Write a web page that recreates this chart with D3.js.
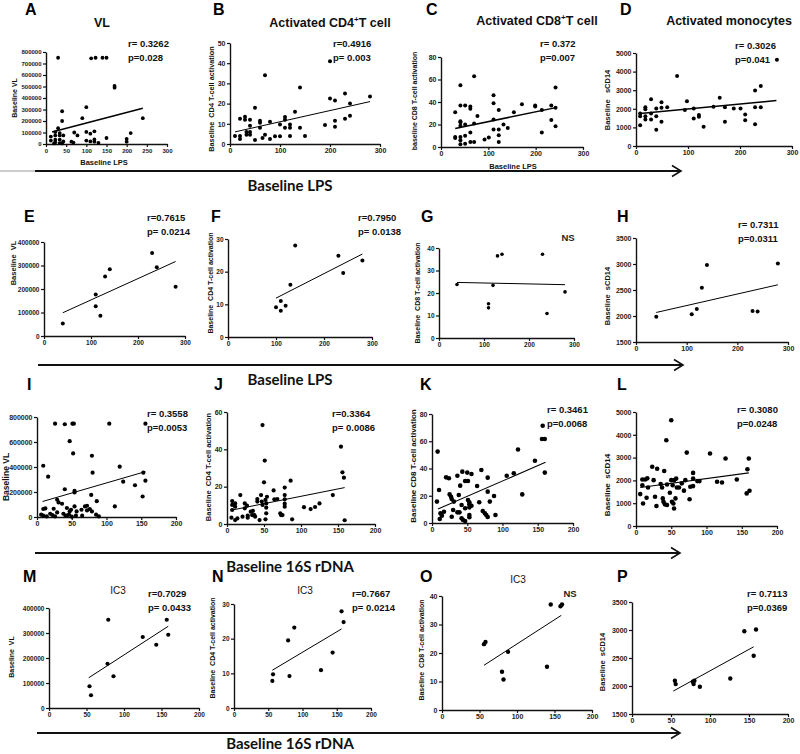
<!DOCTYPE html>
<html><head><meta charset="utf-8">
<script src="https://cdn.jsdelivr.net/npm/d3@7"></script>
<style>
body{margin:0;background:#fff;}
svg text{font-family:"Liberation Sans",Arial,sans-serif;white-space:pre;}
</style></head><body>
<svg id="c" width="800" height="754"></svg>
<script>
// ---------- tick labels ----------
const LPS_T50 = [0,50,100,150,200,250,300];
const LPS_T100 = [0,100,200,300];
const S16_T = [0,50,100,150,200];
const VL_T800 = [0,100000,200000,300000,400000,500000,600000,700000,800000];
const VL_T800b = [0,200000,400000,600000,800000];
const VL_T400 = [0,100000,200000,300000,400000];
const CD4_T50 = [0,10,20,30,40,50];
const CD4_T30 = [0,10,20,30];
const CD4_T60 = [0,20,40,60];
const CD8_T80 = [0,20,40,60,80];
const CD8_T40 = [0,10,20,30,40];
const SCD_T5000 = [0,1000,2000,3000,4000,5000];
const SCD_T3500 = [1500,2000,2500,3000,3500];

// ---------- Row 1: baseline LPS, all patients ----------
const A_lps = [30,112,123,140,150,170,170,100,40,40,90,240,30,210,100,110,120,70,78,150,200,200,100,110,120,120,130,63,68,12,12,23,23,23,23,34,34,34,43,43,34,20,40];
const A_vl  = [750000,745000,750000,750000,750000,505000,490000,320000,285000,200000,225000,225000,138000,95000,105000,90000,110000,100000,75000,52000,45000,20000,30000,22000,40000,20000,10000,20000,12000,65000,30000,104000,75000,38000,15000,95000,75000,38000,75000,22000,8000,5000,5000];
const A_fitX = [15,240], A_fitY = [104000,310000];

const B_lps = [10,20,20,20,30,30,33,33,40,40,40,40,50,50,60,60,60,65,70,70,80,80,90,100,100,110,110,110,120,120,120,130,140,140,150,190,200,200,210,210,210,230,230,240,240,280];
const B_cd4 = [4,12.5,4,2.5,13.5,12,6,4.6,12,9,6,4.6,18,2,11.5,10.5,8,3,34,4.6,11,2.5,3.8,9.6,3.8,13.4,12,8,9.6,8,4,16,28,8,4,9.4,41,22.5,21.5,11.5,8.5,25,12.5,20,14,23.5];
const B_fitX = [10,280], B_fitY = [6,21];

const C_lps = [30,41,41,41,41,41,30,30,41,41,41,51,51,51,51,62,62,62,62,70,70,70,77,92,101,111,111,111,111,122,122,122,122,132,141,154,171,199,199,213,213,233,233,242,242,242];
const C_cd8 = [31,55,37,23,22,19,9,8,9,6,2.4,37,20,10,3,36,34,13,4.5,63,21,4.5,27.5,6.6,8.4,46,39,24.5,15.5,33,15.5,10.4,4.5,20,17,31,38,37,36,33,13,37,24,53,35,18.5];
const C_fitX = [30,243], C_fitY = [16.5,35];

const D_lps = [8,8,8,18,18,18,18,29,29,29,39,39,39,49,49,49,60,79,98,94,111,111,121,121,130,149,161,171,171,188,201,210,210,229,229,229,240,240,271];
const D_scd14 = [1600,1120,1750,2080,1970,1600,1430,2510,1750,1430,2020,1600,880,2350,2060,1300,2080,3770,2400,1930,2020,1480,1660,1570,1030,2110,2600,2080,1300,2020,2020,1700,1390,2980,2080,1170,3230,2080,4640];
const D_fitX = [8,270], D_fitY = [1750,2440];

// ---------- Row 2: baseline LPS, subset ----------
const E_lps = [40,110,110,120,130,140,230,240,280];
const E_vl  = [53000,177000,127000,86000,253000,284000,353000,293000,210000];
const E_fitX = [40,280], E_fitY = [99000,317000];

const F_lps = [100,110,110,120,130,140,230,240,280];
const F_cd4 = [9.1,11,8,9.6,16,28,24.9,19.6,23.4];
const F_fitX = [100,280], F_fitY = [11.9,25.4];

const G_lps = [40,110,110,120,130,140,230,240,280];
const G_cd8 = [23.8,15.2,13.4,23.4,36.5,37.2,37.2,10.9,20.5];
const G_fitX = [40,280], G_fitY = [24.7,23.7];

const H_lps = [40,110,120,130,140,230,240,280];
const H_scd14 = [1985,2035,2135,2545,2980,2095,2085,3010];
const H_fitX = [40,280], H_fitY = [2068,2600];

// ---------- Row 3: baseline 16S rDNA, all patients ----------
const I_16s = [9,16,26,40,51,53,47,52,79,80,104,119,124,141,153,156,152,156,40,54,54,78,86,112,9,12,29,31,36,24,43,54,69,72,76,72,79,85,57,64,19,22,6,9,29,38,41,43,46,50,56,65,89,14,26,47,49];
const I_vl  = [410000,323000,747000,742000,747000,747000,607000,509000,490000,355000,747000,403000,283000,254000,355000,291000,164000,747000,222000,209000,196000,177000,127000,85000,64000,69000,138000,117000,106000,66000,72000,85000,85000,90000,64000,53000,45000,19000,45000,58000,26000,16000,19000,11000,37000,26000,11000,11000,19000,3000,11000,11000,5000,5000,5000,45000,58000];
const I_fitX = [8,156], I_fitY = [124000,363000];

const J_16s = [48,51,50,154,156,158,159,86,78,63,18,143,104,113,119,125,88,7,7,7,6,11,11,11,14,24,24,27,28,28,32,35,34,37,38,41,41,44,46,47,48,52,53,53,53,52,54,64,68,72,73,75,78,78,78,78,21];
const J_cd4 = [53,34,22.3,41.4,27.7,24.8,2,23.2,19.5,18,15.5,15.5,9,8,9.1,11,2.5,12.3,10.2,7.5,3.4,11,9.3,2.1,3,11,8.4,9.8,3.4,4.5,6.6,7,4.8,4.8,3.9,13.4,12,2.1,15.5,12,10.2,12.9,11,8.8,5.7,2.5,14.6,13.2,13.4,5.7,4.8,4.8,15.5,13.2,10.9,9.3,3.9];
const J_fitX = [7,159], J_fitY = [7.5,19.5];

const K_16s = [8,157,156,160,160,122,146,116,106,128,10,7,20,24,36,43,50,56,47,51,70,64,79,40,38,25,27,28,31,42,51,53,53,56,53,47,67,79,82,88,90,30,36,39,28,12,14,11,42,44,47,53,53,72,75,77,79,17];
const K_cd8 = [52.4,71.4,61.6,61.6,37,54,45.7,36.5,34.7,21,24.2,15.7,33.5,32.8,34.7,37.7,37,36,30.8,30.8,38.9,27.2,33.3,27.4,20.6,21,19.3,17.6,15.7,13.2,16.9,15.2,13.7,12.7,11.5,10.8,15.2,23,15.7,19.8,5.9,9.5,7.8,7.8,4.6,7.1,5.4,2.9,3.4,2.2,1.5,5.9,4.2,8.8,7.1,5.9,4.4,8.3];
const K_fitX = [8.5,161], K_fitY = [10.3,44.5];

const L_16s = [50,43,72,105,127,160,158,143,115,122,157,161,23,30,40,13,16,25,35,37,44,50,54,57,52,58,68,70,77,81,81,81,87,90,76,6,9,9,15,10,27,29,38,39,41,44,48,51,53,54,56,61,65,17];
const L_scd14 = [4640,3760,3220,3180,2960,2960,2490,2040,1940,1910,1430,1545,2600,2510,2410,2040,2090,2010,1840,1690,1820,2010,2010,2080,1790,1690,1550,2010,1720,2330,2080,1750,1970,1970,1170,1400,2040,1790,1240,990,1280,875,1210,1060,950,920,1460,1060,990,770,1210,1690,1870,1690];
const L_fitX = [6,160], L_fitY = [1690,2330];

// ---------- Row 4: baseline 16S rDNA, IC3 ----------
const M_16s = [54,56,79,78,86,125,143,157,159];
const M_vl  = [87000,51000,353000,177000,127000,284000,253000,353000,293000];
const M_fitX = [53,159], M_fitY = [121000,327000];

const N_16s = [56,57,79,81,88,127,144,157,160];
const N_cd4 = [7.8,9.7,19.5,9.2,23.2,10.9,16,27.9,24.8];
const N_fitX = [56,157], N_fitY = [10.9,22.8];

const O_16s = [56,58,80,82,88,140,145,158,160];
const O_cd8 = [23.1,23.9,13.4,10.7,20.4,15.2,37,36.4,37];
const O_fitX = [56,159], O_fitY = [15.7,33.2];

const P_16s = [55,56,78,79,80,87,126,144,156,159];
const P_scd14 = [2093,2034,2075,2034,2093,1987,2135,2978,2539,3008];
const P_fitX = [53,156], P_fitY = [1910,2700];

// ---------- layout ----------
const panels = [
 {id:'A',xs:A_lps,ys:A_vl,fx:A_fitX,fy:A_fitY,xd:[0,300],xt:LPS_T50,yd:[0,800000],yt:VL_T800,box:[46,167,144,52],
  lt:[25,15],rp:['r= 0.3262','p=0.028'],rpPos:[128,47],yl:'Baseline VL',ylPos:[15,98],ylSize:7,tk:6,r:1.9,fw:1.6,
  title:'VL',titlePos:[102,27],xl:'Baseline LPS',xlPos:[104,165]},
 {id:'B',xs:B_lps,ys:B_cd4,fx:B_fitX,fy:B_fitY,xd:[0,300],xt:LPS_T100,yd:[0,50],yt:CD4_T50,box:[230,380,144,43],
  lt:[213,15],rp:['r=0.4916','p= 0.003'],rpPos:[333,47],yl:'Baseline  CD4 T-cell activation',ylPos:[211,99],ylSize:7.3,tk:7,r:2,fw:1,
  title:'Activated CD4|+|T cell',titlePos:[330,27]},
 {id:'C',xs:C_lps,ys:C_cd8,fx:C_fitX,fy:C_fitY,xd:[0,300],xt:LPS_T100,yd:[0,80],yt:CD8_T80,box:[441,583,147,57],
  lt:[426,15],rp:['r= 0.372','p=0.007'],rpPos:[540,47],yl:'baseline CD8 T-cell activation',ylPos:[415,101],ylSize:7,tk:7,r:2,fw:1.5,
  title:'Activated CD8|+|T cell',titlePos:[537,25],xl:'Baseline LPS',xlPos:[513,169]},
 {id:'D',xs:D_lps,ys:D_scd14,fx:D_fitX,fy:D_fitY,xd:[0,300],xt:LPS_T100,yd:[0,5000],yt:SCD_T5000,box:[636,792,146,53],
  lt:[620,15],rp:['r= 0.3026','p=0.041'],rpPos:[735,49],yl:'Baseline   sCD14',ylPos:[607,100],ylSize:7.5,tk:7,r:2,fw:1.5,
  title:'Activated monocytes',titlePos:[729,25]},

 {id:'E',xs:E_lps,ys:E_vl,fx:E_fitX,fy:E_fitY,xd:[0,300],xt:LPS_T100,yd:[0,400000],yt:VL_T400,box:[44,185,336,242],
  lt:[24,222],rp:['r=0.7615','p= 0.0214'],rpPos:[147,221],yl:'Baseline  VL',ylPos:[13,263],ylSize:7.5,tk:6.5,r:2,fw:1},
 {id:'F',xs:F_lps,ys:F_cd4,fx:F_fitX,fy:F_fitY,xd:[0,300],xt:LPS_T100,yd:[0,30],yt:CD4_T30,box:[228,372,337,239],
  lt:[211,222],rp:['r=0.7950','p= 0.0138'],rpPos:[358,221],yl:'Baseline  CD4 T-cell activation',ylPos:[211,283],ylSize:7,tk:6.5,r:2,fw:1},
 {id:'G',xs:G_lps,ys:G_cd8,fx:G_fitX,fy:G_fitY,xd:[0,300],xt:LPS_T100,yd:[0,40],yt:CD8_T40,box:[439,574,338,248],
  lt:[421,222],rp:[],rpPos:[0,0],yl:'Baseline  CD8 T-cell activation',ylPos:[418,293],ylSize:7,tk:6.5,r:1.8,fw:1,
  ns:[568,241]},
 {id:'H',xs:H_lps,ys:H_scd14,fx:H_fitX,fy:H_fitY,xd:[0,300],xt:LPS_T100,yd:[1500,3500],yt:SCD_T3500,box:[636,788,342,238],
  lt:[617,222],rp:['r= 0.7311','p=0.0311'],rpPos:[738,228],yl:'Baseline  sCD14',ylPos:[607,296],ylSize:7.5,tk:7,r:2,fw:1},

 {id:'I',xs:I_16s,ys:I_vl,fx:I_fitX,fy:I_fitY,xd:[0,200],xt:S16_T,yd:[0,800000],yt:VL_T800b,box:[37,176,517,417],
  lt:[27,390],rp:['r= 0.3558','p=0.0053'],rpPos:[147,417],yl:'Baseline VL',ylPos:[6,477],ylSize:8.5,tk:7,r:2.1,fw:1},
 {id:'J',xs:J_16s,ys:J_cd4,fx:J_fitX,fy:J_fitY,xd:[0,200],xt:S16_T,yd:[0,60],yt:CD4_T60,box:[227,375,524,412],
  lt:[214,390],rp:['r=0.3364','p= 0.0086'],rpPos:[332,417],yl:'Baseline  CD4 T-cell activation',ylPos:[208,467],ylSize:7.5,tk:7,r:2.1,fw:1},
 {id:'K',xs:K_16s,ys:K_cd8,fx:K_fitX,fy:K_fitY,xd:[0,200],xt:S16_T,yd:[0,80],yt:CD8_T80,box:[432,573,523,414],
  lt:[420,390],rp:['r= 0.3461','p=0.0068'],rpPos:[547,413],yl:'Baseline CD8 T-cell activation',ylPos:[413,466],ylSize:8,tk:7,r:2.3,fw:1.1},
 {id:'L',xs:L_16s,ys:L_scd14,fx:L_fitX,fy:L_fitY,xd:[0,200],xt:S16_T,yd:[0,5000],yt:SCD_T5000,box:[636,777,526,412],
  lt:[617,390],rp:['r= 0.3080','p=0.0248'],rpPos:[737,413],yl:'Baseline  sCD14',ylPos:[607,485],ylSize:8,tk:7,r:2.3,fw:1.1},

 {id:'M',xs:M_16s,ys:M_vl,fx:M_fitX,fy:M_fitY,xd:[0,200],xt:S16_T,yd:[0,400000],yt:VL_T400,box:[49,199,708,608],
  lt:[23,582],rp:['r=0.7029','p= 0.0433'],rpPos:[148,597],yl:'Baseline  VL',ylPos:[12,657],ylSize:7,tk:6.5,r:2.1,fw:1,
  ic3:[118,594]},
 {id:'N',xs:N_16s,ys:N_cd4,fx:N_fitX,fy:N_fitY,xd:[0,200],xt:S16_T,yd:[0,30],yt:CD4_T30,box:[234,371,708,604],
  lt:[212,582],rp:['r=0.7667','p= 0.0214'],rpPos:[352,597],yl:'Baseline  CD4 T-cell activation',ylPos:[213,648],ylSize:7,tk:6.5,r:2.1,fw:1,
  ic3:[305,594]},
 {id:'O',xs:O_16s,ys:O_cd8,fx:O_fitX,fy:O_fitY,xd:[0,200],xt:S16_T,yd:[0,40],yt:CD8_T40,box:[442,592,710,596],
  lt:[420,582],rp:[],rpPos:[0,0],yl:'Baseline  CD8 T-cell activation',ylPos:[422,650],ylSize:7,tk:7,r:2.2,fw:1,
  ic3:[518,583],ns:[570,597]},
 {id:'P',xs:P_16s,ys:P_scd14,fx:P_fitX,fy:P_fitY,xd:[0,200],xt:S16_T,yd:[1500,3500],yt:SCD_T3500,box:[632,788,714,602],
  lt:[617,582],rp:['r= 0.7113','p=0.0369'],rpPos:[747,597],yl:'Baseline  sCD14',ylPos:[602,662],ylSize:7.5,tk:7,r:2.2,fw:1}
];

const arrows = [
 {x0:35,x1:681,y:171,label:'Baseline LPS',ly:191,gray:true},
 {x0:38,x1:683,y:365,label:'Baseline LPS',ly:385},
 {x0:35,x1:680,y:553,label:'Baseline 16S rDNA',ly:572},
 {x0:37,x1:680,y:733,label:'Baseline 16S rDNA',ly:749}
];

const svg = d3.select('#c');

panels.forEach(p => {
  const x = d3.scaleLinear().domain(p.xd).range([p.box[0], p.box[1]]);
  const y = d3.scaleLinear().domain(p.yd).range([p.box[2], p.box[3]]);
  const g = svg.append('g');

  const xa = g.append('g').attr('transform', `translate(0,${p.box[2]})`)
    .call(d3.axisBottom(x).tickValues(p.xt).tickSize(3).tickSizeOuter(0).tickPadding(1.5).tickFormat(d3.format('d')));
  const ya = g.append('g').attr('transform', `translate(${p.box[0]},0)`)
    .call(d3.axisLeft(y).tickValues(p.yt).tickSize(3).tickSizeOuter(0).tickPadding(1.5).tickFormat(d3.format('d')));
  [xa, ya].forEach(a => {
    a.select('.domain').attr('stroke', '#111').attr('stroke-width', 1.4);
    a.selectAll('.tick line').attr('stroke', '#111').attr('stroke-width', 1.2);
    a.selectAll('.tick text').attr('fill', '#222').style('font-size', p.tk + 'px').style('font-weight', 'bold')
      .style('font-family', '"Liberation Sans",Arial,sans-serif');
  });

  g.append('g').selectAll('circle').data(p.xs.map((v, i) => [v, p.ys[i]])).join('circle')
    .attr('cx', d => x(d[0])).attr('cy', d => y(d[1])).attr('r', p.r).attr('fill', '#000');

  g.append('line').attr('x1', x(p.fx[0])).attr('x2', x(p.fx[1]))
    .attr('y1', y(p.fy[0])).attr('y2', y(p.fy[1]))
    .attr('stroke', '#000').attr('stroke-width', p.fw);

  g.append('text').attr('x', p.lt[0]).attr('y', p.lt[1]).text(p.id)
    .style('font-size', '16px').style('font-weight', 'bold').attr('fill', '#000');

  p.rp.forEach((t, i) => {
    g.append('text').attr('x', p.rpPos[0]).attr('y', p.rpPos[1] + i * 13.5).text(t)
      .style('font-size', '9.5px').style('font-weight', 'bold').attr('fill', '#111');
  });

  g.append('text').attr('transform', `translate(${p.ylPos[0]},${p.ylPos[1]}) rotate(-90)`)
    .attr('text-anchor', 'middle').attr('dy', '0.35em').text(p.yl)
    .style('font-size', p.ylSize + 'px').style('font-weight', 'bold').attr('fill', '#111');

  if (p.title) {
    const parts = p.title.split('|');
    const t = g.append('text').attr('x', p.titlePos[0]).attr('y', p.titlePos[1]).attr('text-anchor', 'middle')
      .style('font-size', '12.5px').style('font-weight', 'bold').attr('fill', '#111');
    t.append('tspan').text(parts[0]);
    if (parts.length > 1) {
      t.append('tspan').attr('dy', -5).style('font-size', '8px').text(parts[1]);
      t.append('tspan').attr('dy', 5).text(parts[2]);
    }
  }
  if (p.xl) {
    g.append('text').attr('x', p.xlPos[0]).attr('y', p.xlPos[1]).attr('text-anchor', 'middle').text(p.xl)
      .style('font-size', '7.5px').style('font-weight', 'bold').attr('fill', '#111');
  }
  if (p.ic3) {
    g.append('text').attr('x', p.ic3[0]).attr('y', p.ic3[1]).attr('text-anchor', 'middle').text('IC3')
      .style('font-size', '10px').attr('fill', '#111');
  }
  if (p.ns) {
    g.append('text').attr('x', p.ns[0]).attr('y', p.ns[1]).attr('text-anchor', 'middle').text('NS')
      .style('font-size', '9.5px').style('font-weight', 'bold').attr('fill', '#222');
  }
});

arrows.forEach(a => {
  if (a.gray) svg.append('line').attr('x1', 0).attr('x2', a.x0).attr('y1', a.y).attr('y2', a.y)
    .attr('stroke', '#999').attr('stroke-width', 1);
  svg.append('line').attr('x1', a.x0).attr('x2', a.x1).attr('y1', a.y).attr('y2', a.y)
    .attr('stroke', '#111').attr('stroke-width', 1.8);
  svg.append('path').attr('d', `M${a.x1 - 9},${a.y - 5.5}L${a.x1},${a.y}L${a.x1 - 9},${a.y + 5.5}`)
    .attr('fill', 'none').attr('stroke', '#111').attr('stroke-width', 1.6);
  svg.append('text').attr('x', 290).attr('y', a.ly).attr('text-anchor', 'middle').text(a.label)
    .style('font-family', 'Lato, "Open Sans", sans-serif').style('font-size', '15px').style('font-weight', 'bold').attr('fill', '#111');
});
</script>
</body></html>
